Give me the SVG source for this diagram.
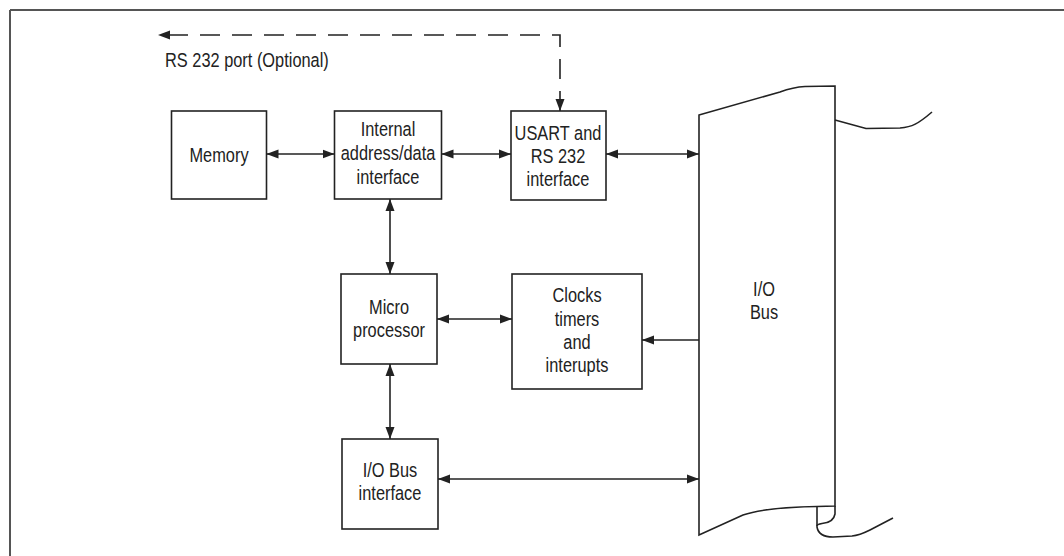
<svg xmlns="http://www.w3.org/2000/svg" width="1064" height="556" viewBox="0 0 1064 556">
<style>
.box{fill:#fff;stroke:#222;stroke-width:1.6}
.ln{fill:none;stroke:#222;stroke-width:1.6}
.dash{fill:none;stroke:#222;stroke-width:1.6;stroke-dasharray:20 12}
.t{font-family:'Liberation Sans',Arial,sans-serif;font-size:19.5px;fill:#222;text-anchor:middle}
.tl{font-family:'Liberation Sans',Arial,sans-serif;font-size:19.5px;fill:#222}
</style>
<defs>
<marker id="ah" markerUnits="userSpaceOnUse" markerWidth="12" markerHeight="10" refX="12" refY="5" orient="auto-start-reverse" viewBox="0 0 12 10">
<path d="M0,0.5 L12,5 L0,9.5 z" fill="#222"/>
</marker>
</defs>
<g id="frame">
<line x1="10" y1="10" x2="1064" y2="10" stroke="#555" stroke-width="2"/>
<line x1="10" y1="10" x2="10" y2="556" stroke="#555" stroke-width="2"/>
</g>
<g id="memory">
<rect class="box" x="171.5" y="111" width="95" height="88"/>
<text class="t" transform="matrix(0.84 0 0 1 219 162)">Memory</text>
</g>
<g id="internal">
<rect class="box" x="334.5" y="111" width="107" height="88"/>
<text class="t" transform="matrix(0.84 0 0 1 388 136)">Internal</text>
<text class="t" transform="matrix(0.84 0 0 1 388 160)">address/data</text>
<text class="t" transform="matrix(0.84 0 0 1 388 184)">interface</text>
</g>
<g id="usart">
<rect class="box" x="511" y="111" width="95" height="89"/>
<text class="t" transform="matrix(0.84 0 0 1 558 140)">USART and</text>
<text class="t" transform="matrix(0.84 0 0 1 558 163)">RS 232</text>
<text class="t" transform="matrix(0.84 0 0 1 558 186)">interface</text>
</g>
<g id="micro">
<rect class="box" x="341" y="274" width="96" height="90"/>
<text class="t" transform="matrix(0.84 0 0 1 389 314)">Micro</text>
<text class="t" transform="matrix(0.84 0 0 1 389 337)">processor</text>
</g>
<g id="clocks">
<rect class="box" x="512" y="274" width="130" height="115"/>
<text class="t" transform="matrix(0.84 0 0 1 577 302)">Clocks</text>
<text class="t" transform="matrix(0.84 0 0 1 577 326)">timers</text>
<text class="t" transform="matrix(0.84 0 0 1 577 349)">and</text>
<text class="t" transform="matrix(0.84 0 0 1 577 372)">interupts</text>
</g>
<g id="iobusif">
<rect class="box" x="342" y="439" width="96" height="90"/>
<text class="t" transform="matrix(0.84 0 0 1 390 477)">I/O Bus</text>
<text class="t" transform="matrix(0.84 0 0 1 390 500)">interface</text>
</g>
<g id="iobus">
<path class="box" d="M699,115 L780,92 C788,89 794,87 805,86.5 L835,86 L835,506 L817,506.5 C790,507 760,509 743,515 L699,535 Z"/>
<path class="ln" d="M835,120 L866,128.5 L900,128 C912,127 918,124 932,112"/>
<path class="ln" d="M817,506.5 L817,527 C818,533 823,537 833,537 L852,536 C858,535.5 862,534 870,530 L893,518"/>
<path class="ln" d="M835,506 L835,514 C834,520 829,523 822,523.5 C819,524 817,525 817,526"/>
<text class="t" transform="matrix(0.84 0 0 1 764 296)">I/O</text>
<text class="t" transform="matrix(0.84 0 0 1 764 319)">Bus</text>
</g>
<g id="connectors">
<line class="ln" x1="266.5" y1="154" x2="334.5" y2="154" marker-start="url(#ah)" marker-end="url(#ah)"/>
<line class="ln" x1="441.5" y1="154" x2="511" y2="154" marker-start="url(#ah)" marker-end="url(#ah)"/>
<line class="ln" x1="606" y1="154" x2="699" y2="154" marker-start="url(#ah)" marker-end="url(#ah)"/>
<line class="ln" x1="390" y1="199" x2="390" y2="274" marker-start="url(#ah)" marker-end="url(#ah)"/>
<line class="ln" x1="437" y1="319" x2="512" y2="319" marker-start="url(#ah)" marker-end="url(#ah)"/>
<line class="ln" x1="699" y1="340" x2="642" y2="340" marker-end="url(#ah)"/>
<line class="ln" x1="390" y1="364" x2="390" y2="439" marker-start="url(#ah)" marker-end="url(#ah)"/>
<line class="ln" x1="438" y1="479" x2="699" y2="479" marker-start="url(#ah)" marker-end="url(#ah)"/>
<path class="dash" d="M560,111 L560,35 L158,35" marker-start="url(#ah)" marker-end="url(#ah)"/>
<text class="tl" transform="matrix(0.84 0 0 1 165 67)">RS 232 port (Optional)</text>
</g>
</svg>
